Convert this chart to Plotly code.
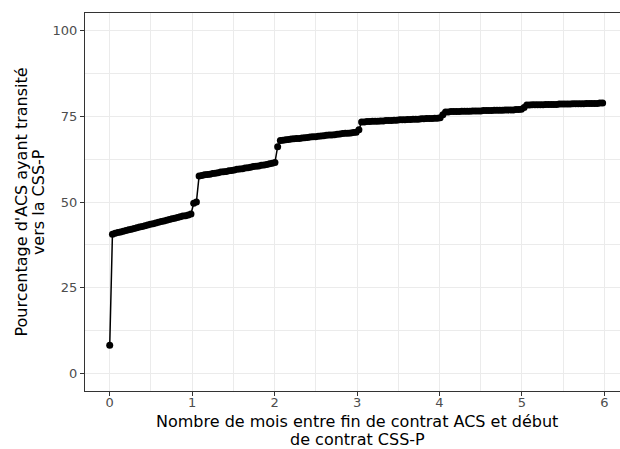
import plotly.graph_objects as go

# Days since end of ACS contract (daily observations)
days = list(range(183))
days_per_month = 30.4375

# Cumulative percentage of ACS having moved to CSS-P
pct = [
    8.3,
    40.6, 40.9, 41.1, 41.3, 41.5, 41.7, 41.9, 42.1, 42.3, 42.5, 42.7, 42.9, 43.1, 43.3,
    43.5, 43.7, 43.9, 44.1, 44.3, 44.5, 44.7, 44.9, 45.1, 45.3, 45.5, 45.7, 45.9, 46.0, 46.2,
    46.5, 49.6, 50.0,
    57.6, 57.7, 57.9, 58.0, 58.1, 58.3, 58.4, 58.5, 58.7, 58.8, 58.9, 59.1, 59.2, 59.3,
    59.5, 59.6, 59.7, 59.9, 60.0, 60.1, 60.3, 60.4, 60.5, 60.7, 60.8, 60.9, 61.1, 61.3, 61.5,
    66.1,
    67.9, 68.0, 68.1, 68.2, 68.3, 68.4, 68.5, 68.5, 68.6, 68.7, 68.8, 68.9, 69.0, 69.0,
    69.1, 69.2, 69.3, 69.4, 69.5, 69.5, 69.6, 69.7, 69.8, 69.9, 70.0, 70.0, 70.1, 70.2, 70.3,
    71.0,
    73.3, 73.3, 73.4, 73.4, 73.5, 73.5, 73.5, 73.6, 73.6, 73.7, 73.7, 73.7, 73.8, 73.8, 73.9,
    73.9, 73.9, 74.0, 74.0, 74.1, 74.1, 74.1, 74.2, 74.2, 74.3, 74.3, 74.3, 74.4, 74.4, 74.5,
    75.4,
    76.2, 76.2, 76.3, 76.3, 76.3, 76.3, 76.4, 76.4, 76.4, 76.4, 76.5, 76.5, 76.5, 76.5,
    76.6, 76.6, 76.6, 76.6, 76.7, 76.7, 76.7, 76.7, 76.8, 76.8, 76.8, 76.8, 76.9, 76.9, 77.0,
    77.5,
    78.2, 78.2, 78.3, 78.3, 78.3, 78.3, 78.3, 78.4, 78.4, 78.4, 78.4, 78.4, 78.5, 78.5,
    78.5, 78.5, 78.5, 78.6, 78.6, 78.6, 78.6, 78.6, 78.7, 78.7, 78.7, 78.7, 78.7, 78.8, 78.8,
]

x_ticks = [0, 1, 2, 3, 4, 5, 6]
y_ticks = [0, 25, 50, 75, 100]

x_title_lines = ["Nombre de mois entre fin de contrat ACS et début", "de contrat CSS-P"]
y_title_lines = ["Pourcentage d'ACS ayant transité", "vers la CSS-P"]

months = [d / days_per_month for d in days]

fig = go.Figure()
fig.add_trace(go.Scatter(
    x=months, y=pct, mode="lines+markers",
    line=dict(color="black", width=1.5),
    marker=dict(color="black", size=7),
    showlegend=False, hoverinfo="skip",
))

grid = "#EBEBEB"
border = "#333333"
tickfont = dict(family="DejaVu Sans", size=13, color="#4D4D4D")

fig.update_layout(
    width=620, height=449,
    margin=dict(l=85, r=0, t=13, b=58, autoexpand=False),
    paper_bgcolor="white", plot_bgcolor="white",
    font=dict(family="DejaVu Sans", size=16, color="black"),
    xaxis=dict(
        range=[-0.3, 6.19], tickvals=x_ticks, ticktext=[str(v) for v in x_ticks],
        showgrid=True, gridcolor=grid, gridwidth=1.4, zeroline=False, automargin=False,
        minor=dict(dtick=0.5, tick0=0, showgrid=True, gridcolor=grid, gridwidth=0.8),
        ticks="outside", ticklen=4, tickcolor=border, tickwidth=1,
        showline=True, linecolor=border, linewidth=1, mirror=True,
        tickfont=tickfont, ticklabelstandoff=-5,
    ),
    yaxis=dict(
        range=[-5, 105], tickvals=y_ticks, ticktext=[str(v) for v in y_ticks],
        showgrid=True, gridcolor=grid, gridwidth=1.4, zeroline=False, automargin=False,
        minor=dict(dtick=12.5, tick0=0, showgrid=True, gridcolor=grid, gridwidth=0.8),
        ticks="outside", ticklen=4, tickcolor=border, tickwidth=1,
        showline=True, linecolor=border, linewidth=1, mirror=False,
        tickfont=tickfont,
    ),
)

# Axis titles (two lines each, tight line spacing as in the original)
xc = (357 - 85) / 535
for i, line in enumerate(x_title_lines):
    fig.add_annotation(
        text=line, xref="paper", yref="paper", x=xc, y=0,
        xanchor="center", yanchor="middle", showarrow=False,
        yshift=-(421.5 - 391) - i * 17.6,
        font=dict(family="DejaVu Sans", size=16, color="black"),
    )
for i, line in enumerate(y_title_lines):
    fig.add_annotation(
        text=line, xref="paper", yref="paper", x=0, y=0.5,
        xanchor="center", yanchor="middle", showarrow=False, textangle=-90,
        xshift=-(85 - 20.5) + i * 17.6,
        font=dict(family="DejaVu Sans", size=16, color="black"),
    )

fig.write_html(
    "out.html",
    config={"displayModeBar": False},
    post_script="document.body.style.margin='0';document.body.style.overflow='hidden';",
)
